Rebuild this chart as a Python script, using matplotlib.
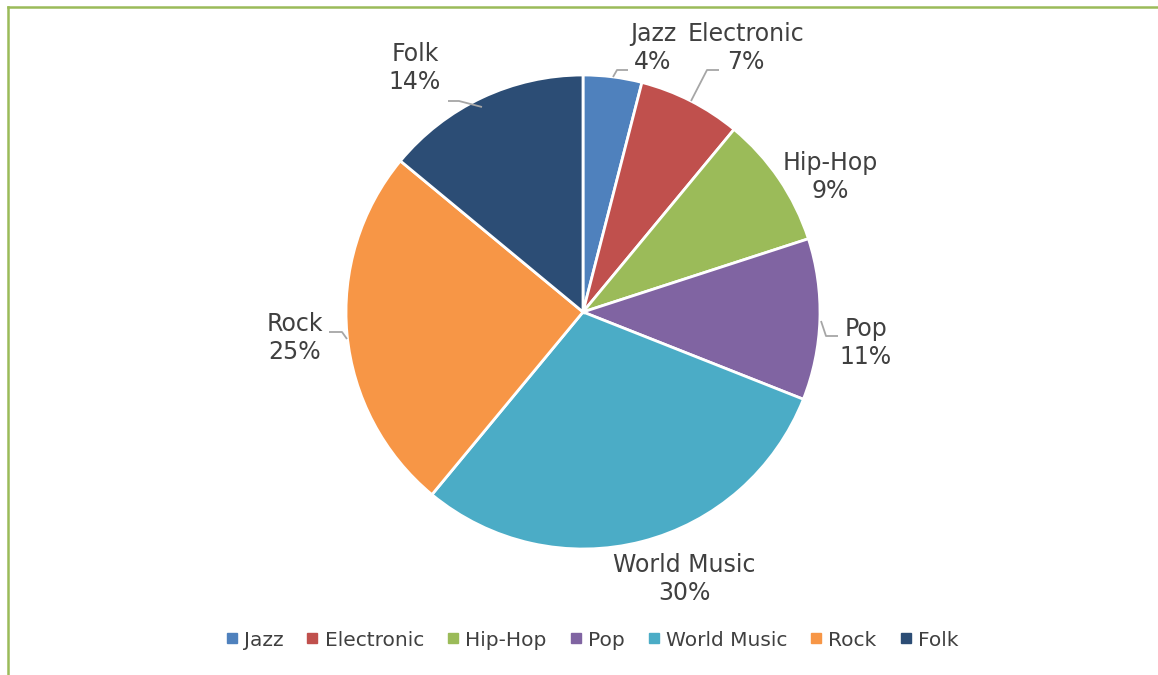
import matplotlib
matplotlib.use("Agg")
import matplotlib.pyplot as plt
from matplotlib.lines import Line2D

# data (percent of total)
genres = ['Jazz', 'Electronic', 'Hip-Hop', 'Pop', 'World Music', 'Rock', 'Folk']
shares = [4, 7, 9, 11, 30, 25, 14]
colors = ['#4F81BD', '#C0504D', '#9BBB59', '#8064A2', '#4BACC6', '#F79646', '#2C4D75']

W, H = 1158, 675
TEXT = '#404040'

fig = plt.figure(figsize=(W / 100, H / 100), dpi=100)
ax = fig.add_axes([0, 0, 1, 1])

def py(y):
    '''pixel row (from the top) -> data y'''
    return H - y

# pie geometry in pixels
cx, cy, rad = 583, 312, 237
ax.pie(shares, colors=colors, startangle=90, counterclock=False,
       center=(cx, py(cy)), radius=rad,
       wedgeprops=dict(edgecolor='white', linewidth=2.0))
ax.set_xlim(0, W)
ax.set_ylim(0, H)
ax.set_aspect('equal')
ax.axis('off')

# label centres and leader lines (pixels), layout only
label_pos = [(653, 48), (746, 48), (830, 177), (866, 343),
             (684, 579), (295, 338), (415, 68)]
leaders = {
    'Jazz': [(613, 77), (617, 70), (628, 70)],
    'Electronic': [(691, 101), (707, 70), (719, 70)],
    'Pop': [(821, 321), (826, 336), (838, 336)],
    'Rock': [(347, 339), (342, 332), (329, 332)],
    'Folk': [(482, 107), (459, 101), (448, 101)],
}

for name, val, (lx, ly) in zip(genres, shares, label_pos):
    ax.text(lx, py(ly), f'{name}\n{val}%', ha='center', va='center',
            fontsize=17, color=TEXT, linespacing=1.25)
    if name in leaders:
        pts = leaders[name]
        ax.plot([p[0] for p in pts], [py(p[1]) for p in pts],
                color='#A6A6A6', lw=1.3, solid_capstyle='butt')

# legend along the bottom
handles = [Line2D([], [], marker='s', ls='', color=c, markersize=7) for c in colors]
fig.legend(handles, genres, loc='center', bbox_to_anchor=(590 / W, 1 - 640 / H),
           ncol=7, frameon=False, fontsize=14.5, handletextpad=0.1,
           columnspacing=0.95, labelcolor=TEXT, handlelength=1.0)

# green chart border, only top and left edges show
fig.add_artist(Line2D([8 / W, 8 / W], [0, 1 - 7 / H], transform=fig.transFigure,
                      color='#9BBB59', lw=1.8))
fig.add_artist(Line2D([8 / W, 1], [1 - 7 / H, 1 - 7 / H], transform=fig.transFigure,
                      color='#9BBB59', lw=1.8))

fig.savefig('out.png', dpi=100, facecolor='white')
